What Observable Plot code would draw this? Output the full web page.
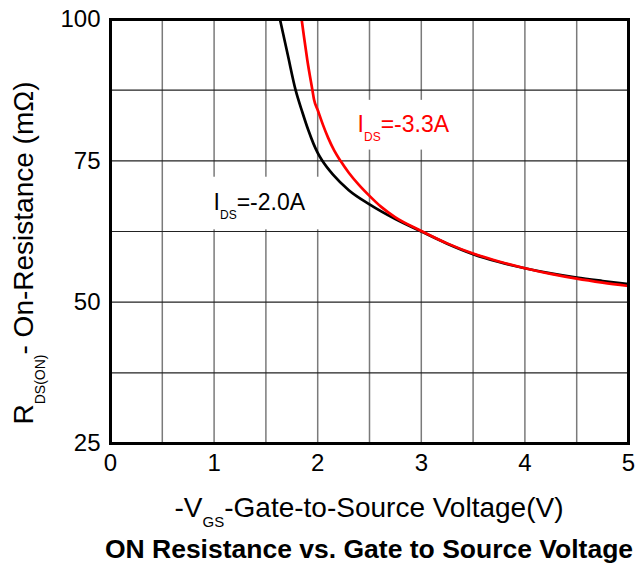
<!DOCTYPE html>
<html>
<head>
<meta charset="utf-8">
<script src="https://cdn.jsdelivr.net/npm/d3@7"></script>
<script src="https://cdn.jsdelivr.net/npm/@observablehq/plot@0.6"></script>
<style>
  html, body { margin: 0; padding: 0; background: #fff; }
  svg { display: block; }
</style>
</head>
<body>
<div id="chart"></div>
<script>
// -VGS (V) and RDS(ON) (mΩ) for IDS = -2.0 A (black)
const vgsA = [1.636, 1.711, 1.787, 1.852, 1.91, 1.96, 2.0, 2.045, 2.15, 2.3, 2.5, 2.75, 3.0, 3.25, 3.5, 3.75, 4.0, 4.25, 4.5, 4.75, 5.0];
const rdsA = [100, 93.75, 87.5, 83.6, 80.4, 78.0, 76.4, 75.0, 72.5, 69.8, 67.3, 64.7, 62.5, 60.35, 58.5, 57.1, 56.0, 55.1, 54.35, 53.75, 53.2];
// IDS = -3.3 A (red)
const vgsB = [1.845, 1.868, 1.9, 1.949, 1.965, 2.0, 2.05, 2.1, 2.16, 2.22, 2.3, 2.4, 2.5, 2.61, 2.75, 3.0, 3.25, 3.5, 3.75, 4.0, 4.25, 4.5, 4.75, 5.0];
const rdsB = [100, 96.9, 92.8, 87.5, 85.8, 84.0, 81.4, 79.1, 76.8, 75.0, 72.9, 70.7, 68.8, 66.9, 65.0, 62.6, 60.4, 58.6, 57.2, 56.0, 55.0, 54.15, 53.45, 52.85];

const xTicks = [0, 1, 2, 3, 4, 5];
const yTicks = [25, 50, 75, 100];
const xGrid = [0.5, 1, 1.5, 2, 2.5, 3, 3.5, 4, 4.5];
const yGrid = [37.5, 50, 62.5, 75, 87.5];

const seriesA = vgsA.map((v, i) => ({v, r: rdsA[i]}));
const seriesB = vgsB.map((v, i) => ({v, r: rdsB[i]}));

// white label backgrounds (data coordinates)
const boxes = [
  {x1: 0.95, x2: 2.08, y1: 62.8, y2: 72.1},
  {x1: 2.35, x2: 3.44, y1: 76.9, y2: 85.7}
];

const FONT = "'Liberation Sans', Arial, Helvetica, sans-serif";

const chart = Plot.plot({
  width: 641,
  height: 565,
  marginLeft: 110,
  marginRight: 13,
  marginTop: 19,
  marginBottom: 122,
  style: {fontFamily: FONT, fontSize: "24px", color: "#000", background: "#fff"},
  x: {domain: [0, 5]},
  y: {domain: [25, 100]},
  marks: [
    Plot.ruleX(xGrid, {stroke: "#7a7a7a", strokeWidth: 1.5}),
    Plot.ruleY(yGrid, {stroke: "#222", strokeWidth: 1.2}),
    Plot.rect(boxes, {x1: d => d.x1, x2: d => d.x2, y1: d => d.y1, y2: d => d.y2, fill: "#fff", stroke: "none"}),
    Plot.line(seriesA, {x: "v", y: "r", stroke: "#000", strokeWidth: 2.7, curve: "monotone-x"}),
    Plot.line(seriesB, {x: "v", y: "r", stroke: "#ff0000", strokeWidth: 2.7, curve: "monotone-x"}),
    Plot.frame({stroke: "#000", strokeWidth: 3}),
    Plot.axisX(xTicks, {tickSize: 0, tickPadding: 10, fontSize: 24, label: null}),
    Plot.axisY(yTicks, {tickSize: 0, tickPadding: 10, fontSize: 24, label: null})
  ]
});

document.getElementById("chart").appendChild(chart);

const sx = chart.scale("x"), sy = chart.scale("y");
const svg = d3.select(chart);

function subLabel(g, vx, vy, main, sub, rest, color) {
  const t = g.append("text")
    .attr("x", sx.apply(vx)).attr("y", sy.apply(vy))
    .attr("text-anchor", "start")
    .attr("fill", color)
    .attr("font-family", FONT)
    .attr("font-size", 23);
  t.append("tspan").text(main);
  t.append("tspan").attr("font-size", 12).attr("dy", 9).text(sub);
  t.append("tspan").attr("dy", -9).text(rest);
}

const ann = svg.append("g");
subLabel(ann, 1.0, 66.25, "I", "DS", "=-2.0A", "#000");
subLabel(ann, 2.39, 80.1, "I", "DS", "=-3.3A", "#ff0000");

// x-axis title
const plotCx = (sx.range[0] + sx.range[1]) / 2;
const xt = svg.append("text")
  .attr("x", plotCx).attr("y", 517)
  .attr("text-anchor", "middle")
  .attr("font-family", FONT).attr("font-size", 28).attr("fill", "#000");
xt.append("tspan").text("-V");
xt.append("tspan").attr("font-size", 15).attr("dy", 10).text("GS");
xt.append("tspan").attr("dy", -10).text("-Gate-to-Source Voltage(V)");

// chart title
svg.append("text")
  .attr("x", plotCx).attr("y", 558)
  .attr("text-anchor", "middle")
  .attr("font-family", FONT).attr("font-size", 26.5).attr("font-weight", "bold").attr("fill", "#000")
  .text("ON Resistance vs. Gate to Source Voltage");

// y-axis title (rotated)
const yt = svg.append("text")
  .attr("transform", "translate(33,253) rotate(-90)")
  .attr("text-anchor", "middle")
  .attr("font-family", FONT).attr("font-size", 28).attr("fill", "#000");
yt.append("tspan").text("R");
yt.append("tspan").attr("font-size", 14).attr("dy", 12).text("DS(ON)");
yt.append("tspan").attr("dy", -12).text("- On-Resistance (mΩ)");
</script>
</body>
</html>
